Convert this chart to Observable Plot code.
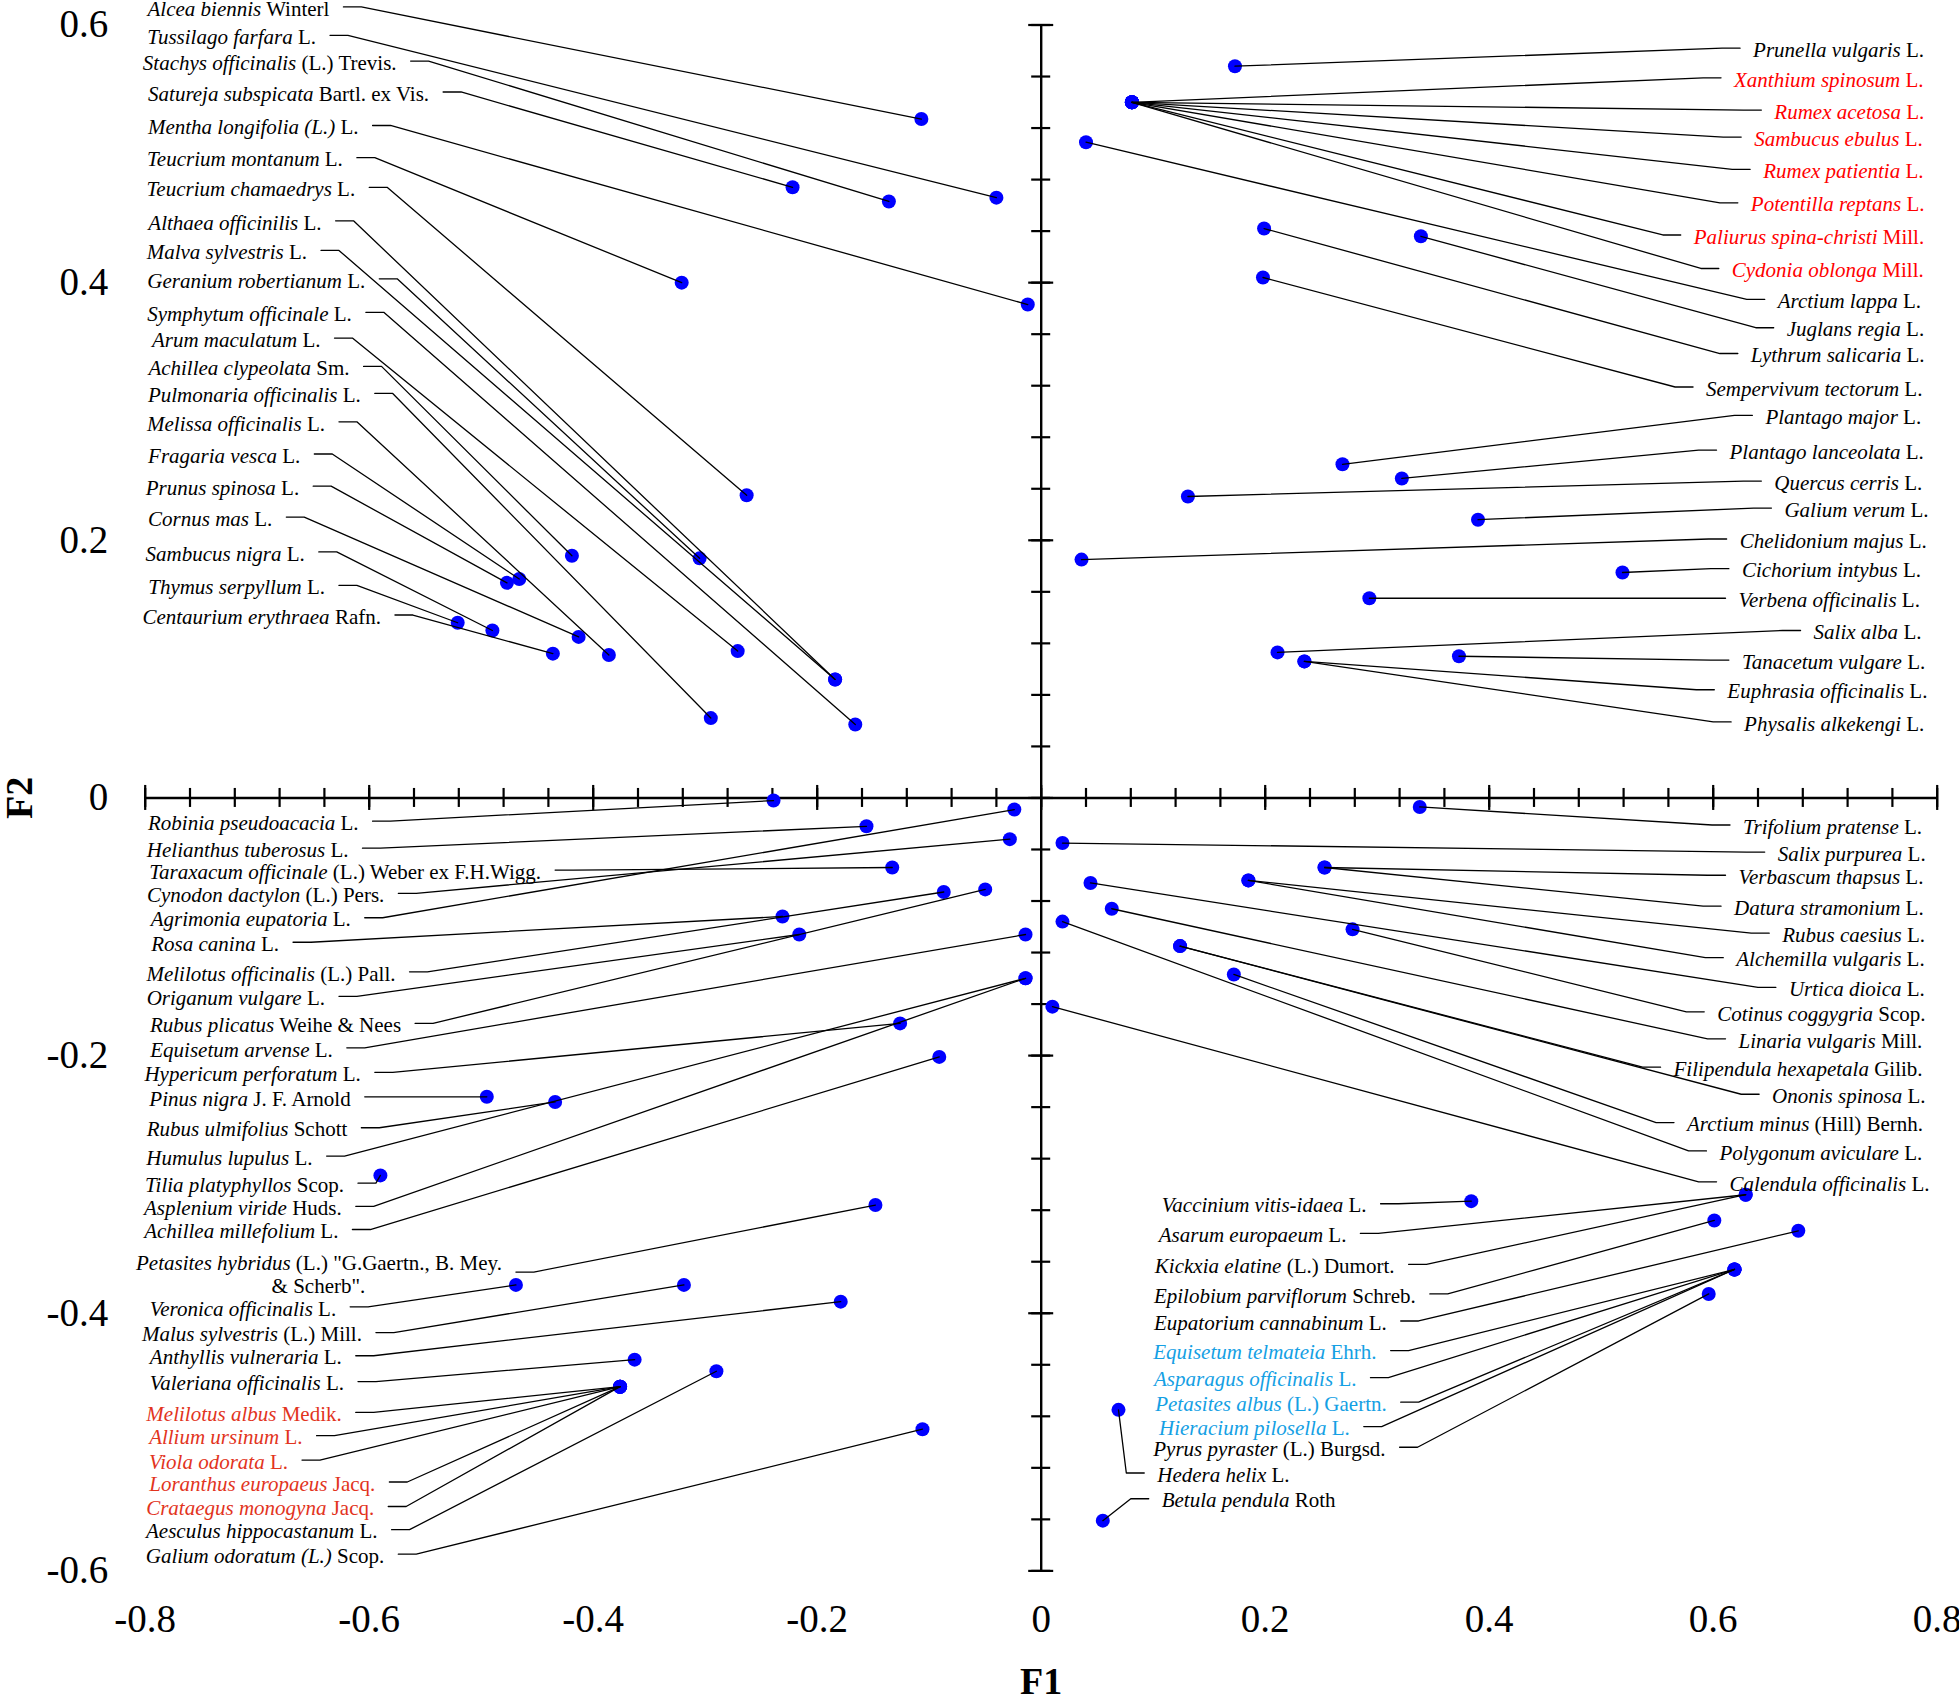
<!DOCTYPE html>
<html>
<head>
<meta charset="utf-8">
<script src="https://cdn.jsdelivr.net/npm/d3@7"></script>
<script src="https://cdn.jsdelivr.net/npm/@observablehq/plot@0.6"></script>
<style>
  html, body { margin: 0; padding: 0; background: #fff; }
  svg { display: block; }
</style>
</head>
<body>
<div id="chart"></div>
<script>
// ---------- data ----------
const names = [
  "Alcea biennis","Tussilago farfara","Stachys officinalis","Satureja subspicata","Mentha longifolia (L.)",
  "Teucrium montanum","Teucrium chamaedrys","Althaea officinilis","Malva sylvestris","Geranium robertianum",
  "Symphytum officinale","Arum maculatum","Achillea clypeolata","Pulmonaria officinalis","Melissa officinalis",
  "Fragaria vesca","Prunus spinosa","Cornus mas","Sambucus nigra","Thymus serpyllum","Centaurium erythraea",
  "Robinia pseudoacacia","Helianthus tuberosus","Taraxacum officinale","Cynodon dactylon","Agrimonia eupatoria",
  "Rosa canina","Melilotus officinalis","Origanum vulgare","Rubus plicatus","Equisetum arvense",
  "Hypericum perforatum","Pinus nigra","Rubus ulmifolius","Humulus lupulus","Tilia platyphyllos",
  "Asplenium viride","Achillea millefolium","Petasites hybridus","Veronica officinalis","Malus sylvestris",
  "Anthyllis vulneraria","Valeriana officinalis","Melilotus albus","Allium ursinum","Viola odorata",
  "Loranthus europaeus","Crataegus monogyna","Aesculus hippocastanum","Galium odoratum (L.)",
  "Prunella vulgaris","Xanthium spinosum","Rumex acetosa","Sambucus ebulus","Rumex patientia",
  "Potentilla reptans","Paliurus spina-christi","Cydonia oblonga","Arctium lappa","Juglans regia",
  "Lythrum salicaria","Sempervivum tectorum","Plantago major","Plantago lanceolata","Quercus cerris",
  "Galium verum","Chelidonium majus","Cichorium intybus","Verbena officinalis","Salix alba",
  "Tanacetum vulgare","Euphrasia officinalis","Physalis alkekengi",
  "Trifolium pratense","Salix purpurea","Verbascum thapsus","Datura stramonium","Rubus caesius",
  "Alchemilla vulgaris","Urtica dioica","Cotinus coggygria","Linaria vulgaris","Filipendula hexapetala",
  "Ononis spinosa","Arctium minus","Polygonum aviculare","Calendula officinalis",
  "Vaccinium vitis-idaea","Asarum europaeum","Kickxia elatine","Epilobium parviflorum","Eupatorium cannabinum",
  "Equisetum telmateia","Asparagus officinalis","Petasites albus","Hieracium pilosella","Pyrus pyraster",
  "Hedera helix","Betula pendula"
];
const authors = [
  "Winterl","L.","(L.) Trevis.","Bartl. ex Vis.","L.",
  "L.","L.","L.","L.","L.",
  "L.","L.","Sm.","L.","L.",
  "L.","L.","L.","L.","L.","Rafn.",
  "L.","L.","(L.) Weber ex F.H.Wigg.","(L.) Pers.","L.",
  "L.","(L.) Pall.","L.","Weihe & Nees","L.",
  "L.","J. F. Arnold","Schott","L.","Scop.",
  "Huds.","L.","(L.) \"G.Gaertn., B. Mey.\n& Scherb\".","L.","(L.) Mill.",
  "L.","L.","Medik.","L.","L.",
  "Jacq.","Jacq.","L.","Scop.",
  "L.","L.","L.","L.","L.",
  "L.","Mill.","Mill.","L.","L.",
  "L.","L.","L.","L.","L.",
  "L.","L.","L.","L.","L.",
  "L.","L.","L.",
  "L.","L.","L.","L.","L.",
  "L.","L.","Scop.","Mill.","Gilib.",
  "L.","(Hill) Bernh.","L.","L.",
  "L.","L.","(L.) Dumort.","Schreb.","L.",
  "Ehrh.","L.","(L.) Gaertn.","L.","(L.) Burgsd.",
  "L.","Roth"
];
// which side of its leader the label sits on: L = text left of leader, R = text right of leader
const sides = [
  "L","L","L","L","L","L","L","L","L","L","L","L","L","L","L","L","L","L","L","L","L",
  "L","L","L","L","L","L","L","L","L","L","L","L","L","L","L","L","L","L","L","L","L","L","L","L","L","L","L","L","L",
  "R","R","R","R","R","R","R","R","R","R","R","R","R","R","R","R","R","R","R","R","R","R","R",
  "R","R","R","R","R","R","R","R","R","R","R","R","R","R",
  "L","L","L","L","L","L","L","L","L","L","R","R"
];
// k = black, r = red, o = orange red, c = sky blue
const colorKeys = [
  "k","k","k","k","k","k","k","k","k","k","k","k","k","k","k","k","k","k","k","k","k",
  "k","k","k","k","k","k","k","k","k","k","k","k","k","k","k","k","k","k","k","k","k","k","o","o","o","o","o","k","k",
  "k","r","r","r","r","r","r","r","k","k","k","k","k","k","k","k","k","k","k","k","k","k","k",
  "k","k","k","k","k","k","k","k","k","k","k","k","k","k",
  "k","k","k","k","k","c","c","c","c","k","k","k"
];
// label anchor (text end of the leader stub), in F1/F2 units
const labelX = [
  -0.623,-0.635,-0.563,-0.534,-0.597,-0.611,-0.600,-0.630,-0.643,-0.591,-0.603,-0.631,-0.605,-0.595,-0.627,
  -0.649,-0.650,-0.674,-0.645,-0.627,-0.577,
  -0.597,-0.606,-0.434,-0.574,-0.604,-0.668,-0.564,-0.627,-0.559,-0.620,-0.595,-0.604,-0.607,-0.638,-0.610,
  -0.612,-0.615,-0.469,-0.617,-0.594,-0.612,-0.610,-0.612,-0.647,-0.660,-0.582,-0.583,-0.580,-0.574,
  0.624,0.607,0.643,0.625,0.633,0.622,0.571,0.605,0.646,0.654,0.622,0.582,0.635,0.603,0.643,0.652,0.612,
  0.614,0.611,0.678,0.614,0.601,0.616,
  0.615,0.646,0.611,0.607,0.650,0.609,0.656,0.592,0.611,0.553,0.641,0.565,0.594,0.603,
  0.303,0.285,0.328,0.347,0.321,0.312,0.294,0.321,0.288,0.320,0.092,0.096
];
const labelY = [
  0.614,0.592,0.572,0.548,0.522,0.497,0.474,0.448,0.425,0.403,0.377,0.357,0.335,0.314,0.292,
  0.267,0.242,0.218,0.191,0.165,0.142,
  -0.018,-0.039,-0.056,-0.074,-0.093,-0.112,-0.135,-0.154,-0.175,-0.194,-0.213,-0.232,-0.256,-0.278,-0.299,
  -0.317,-0.335,-0.368,-0.395,-0.415,-0.433,-0.453,-0.477,-0.495,-0.514,-0.531,-0.550,-0.568,-0.587,
  0.582,0.559,0.534,0.513,0.488,0.462,0.437,0.411,0.387,0.365,0.345,0.319,0.297,0.270,0.246,0.225,0.201,
  0.178,0.155,0.130,0.107,0.084,0.059,
  -0.021,-0.042,-0.060,-0.084,-0.105,-0.124,-0.147,-0.166,-0.187,-0.209,-0.230,-0.252,-0.274,-0.298,
  -0.315,-0.338,-0.362,-0.385,-0.406,-0.429,-0.450,-0.469,-0.488,-0.504,-0.524,-0.544
];
// scores (F1, F2) of each plant
const pointX = [
  -0.107,-0.040,-0.136,-0.222,-0.012,-0.321,-0.263,-0.184,-0.184,-0.305,-0.166,-0.271,-0.419,-0.295,-0.386,
  -0.466,-0.477,-0.413,-0.490,-0.521,-0.436,
  -0.239,-0.156,-0.133,-0.028,-0.024,-0.231,-0.087,-0.216,-0.050,-0.014,-0.126,-0.495,-0.434,-0.014,-0.590,
  -0.014,-0.091,-0.148,-0.469,-0.319,-0.179,-0.363,-0.376,-0.376,-0.376,-0.376,-0.376,-0.290,-0.106,
  0.173,0.081,0.081,0.081,0.081,0.081,0.081,0.081,0.040,0.339,0.199,0.198,0.269,0.322,0.131,0.390,0.036,
  0.519,0.293,0.211,0.373,0.235,0.235,
  0.338,0.019,0.253,0.253,0.185,0.185,0.044,0.278,0.063,0.124,0.124,0.172,0.019,0.010,
  0.384,0.629,0.629,0.601,0.676,0.619,0.619,0.619,0.619,0.596,0.069,0.055
];
const pointY = [
  0.527,0.466,0.463,0.474,0.383,0.400,0.235,0.092,0.092,0.186,0.057,0.114,0.188,0.062,0.111,
  0.170,0.167,0.125,0.130,0.136,0.112,
  -0.002,-0.022,-0.054,-0.032,-0.009,-0.092,-0.073,-0.106,-0.071,-0.106,-0.175,-0.232,-0.236,-0.140,-0.293,
  -0.140,-0.201,-0.316,-0.378,-0.378,-0.391,-0.436,-0.457,-0.457,-0.457,-0.457,-0.457,-0.445,-0.490,
  0.568,0.540,0.540,0.540,0.540,0.540,0.540,0.540,0.509,0.436,0.442,0.404,0.259,0.248,0.234,0.216,0.185,
  0.175,0.155,0.113,0.110,0.106,0.106,
  -0.007,-0.035,-0.054,-0.054,-0.064,-0.064,-0.066,-0.102,-0.086,-0.115,-0.115,-0.137,-0.096,-0.162,
  -0.313,-0.308,-0.308,-0.328,-0.336,-0.366,-0.366,-0.366,-0.366,-0.385,-0.475,-0.561
];
const xTickLabels = [-0.8, -0.6, -0.4, -0.2, 0, 0.2, 0.4, 0.6, 0.8];
const yTickLabels = [0.6, 0.4, 0.2, 0, -0.2, -0.4, -0.6];
const minorStep = 0.04;

// ---------- build ----------
const STUB = 0.016;
const colorMap = {k: "#000000", r: "#ff0000", o: "#e2341d", c: "#14a0e4"};
const rows = names.map((name, i) => ({
  name, author: authors[i], side: sides[i], color: colorMap[colorKeys[i]],
  lx: labelX[i], ly: labelY[i], px: pointX[i], py: pointY[i],
  kx: labelX[i] + (sides[i] === "L" ? STUB : -STUB)
}));
const leaders = rows.flatMap((d, i) => [
  {x: d.lx, y: d.ly, z: i}, {x: d.kx, y: d.ly, z: i}, {x: d.px, y: d.py, z: i}
]);
const rowsL = rows.filter(d => d.side === "L");
const rowsR = rows.filter(d => d.side === "R");
const firstLine = d => d.name + " " + d.author.split("\n")[0];
const minorX = d3.range(-20, 21).map(k => +(k * minorStep).toFixed(2));
const minorY = d3.range(-15, 16).map(k => +(k * minorStep).toFixed(2));
const fmt = d => d === 0 ? "0" : d.toFixed(1);

const chart = Plot.plot({
  width: 1959,
  height: 1698,
  margin: 0,
  x: {domain: [-0.8, 0.8], range: [144.7, 1936.7]},
  y: {domain: [-0.6, 0.6], range: [1570.4, 24.5]},
  color: {type: "identity"},
  style: {fontFamily: "'Liberation Serif', 'Times New Roman', Times, serif", background: "#fff", overflow: "visible"},
  marks: [
    Plot.ruleY([0], {x1: -0.8, x2: 0.8, stroke: "#000", strokeWidth: 2.4}),
    Plot.ruleX([0], {y1: -0.6, y2: 0.6, stroke: "#000", strokeWidth: 2.4}),
    Plot.ruleX(minorX, {x: d => d, y1: 0, y2: 0, insetTop: -9.5, insetBottom: -9.5, stroke: "#000", strokeWidth: 2.2}),
    Plot.ruleX(xTickLabels, {x: d => d, y1: 0, y2: 0, insetTop: -12.5, insetBottom: -12.5, stroke: "#000", strokeWidth: 2.2}),
    Plot.ruleY(minorY, {y: d => d, x1: 0, x2: 0, insetLeft: -9.5, insetRight: -9.5, stroke: "#000", strokeWidth: 2.2}),
    Plot.ruleY(yTickLabels, {y: d => d, x1: 0, x2: 0, insetLeft: -12.5, insetRight: -12.5, stroke: "#000", strokeWidth: 2.2}),
    Plot.text(xTickLabels, {x: d => d, y: -0.6, dy: 49, text: fmt, fontSize: 39, fill: "#000"}),
    Plot.text(yTickLabels, {x: -0.8, y: d => d, dx: -37, textAnchor: "end", text: fmt, fontSize: 39, fill: "#000"}),
    Plot.text(["F1"], {x: 0, y: -0.6, dy: 111, text: d => d, fontWeight: "bold", fontSize: 38, fill: "#000"}),
    Plot.text(["F2"], {x: -0.8, y: 0, dx: -125, rotate: -90, text: d => d, fontWeight: "bold", fontSize: 38, fill: "#000"}),
    Plot.dot(rows, {x: "px", y: "py", r: 7, fill: "#0000ff"}),
    Plot.line(leaders, {x: "x", y: "y", z: "z", stroke: "#000", strokeWidth: 1.3}),
    Plot.text(rowsL, {x: "lx", y: "ly", text: firstLine, fill: "color", textAnchor: "end", dx: -14, dy: 2, fontSize: 21, ariaDescription: "labels-left"}),
    Plot.text(rowsR, {x: "lx", y: "ly", text: firstLine, fill: "color", textAnchor: "start", dx: 13, dy: 2, fontSize: 21, ariaDescription: "labels-right"})
  ]
});
document.getElementById("chart").appendChild(chart);

// express each (non-rotated) text position as x/y attributes rather than a transform
chart.querySelectorAll("text").forEach(t => {
  const tr = t.getAttribute("transform");
  if (!tr) return;
  const m = /^\s*translate\(\s*([-\d.eE+]+)\s*[, ]\s*([-\d.eE+]+)\s*\)\s*$/.exec(tr);
  if (!m) return;
  const yOff = t.getAttribute("y");
  t.removeAttribute("transform");
  t.setAttribute("x", m[1]);
  t.setAttribute("y", m[2]);
  if (yOff) t.setAttribute("dy", yOff);
});

// species name in italics, authority upright
const NS = "http://www.w3.org/2000/svg";
function findGroup(desc, fallbackIndex) {
  let g = chart.querySelector(`g[aria-description="${desc}"]`);
  if (!g) {
    const groups = Array.from(chart.children).filter(e => e.tagName.toLowerCase() === "g");
    g = groups[fallbackIndex];
  }
  return g;
}
function styleLabels(desc, fallbackIndex, data) {
  const g = findGroup(desc, fallbackIndex);
  if (!g) return;
  const texts = g.querySelectorAll("text");
  texts.forEach((t, k) => {
    const d = data[k];
    if (!d) return;
    const [line1, line2] = d.author.split("\n");
    while (t.firstChild) t.removeChild(t.firstChild);
    const it = document.createElementNS(NS, "tspan");
    it.setAttribute("font-style", "italic");
    it.style.fontStyle = "italic";
    it.textContent = d.name;
    const au = document.createElementNS(NS, "tspan");
    au.textContent = " " + line1;
    t.appendChild(it);
    t.appendChild(au);
    if (line2) {
      t.setAttribute("dy", "-0.2em");
      const bb = t.getBBox();
      const l2 = document.createElementNS(NS, "tspan");
      l2.textContent = line2;
      l2.setAttribute("x", bb.x);
      l2.setAttribute("dy", "1.12em");
      t.appendChild(l2);
      const w2 = l2.getComputedTextLength();
      const cx = bb.x + bb.width / 2;
      l2.setAttribute("x", d.side === "L" ? cx + w2 / 2 : cx - w2 / 2);
    }
  });
}
styleLabels("labels-left", 12, rowsL);
styleLabels("labels-right", 13, rowsR);
</script>
</body>
</html>
